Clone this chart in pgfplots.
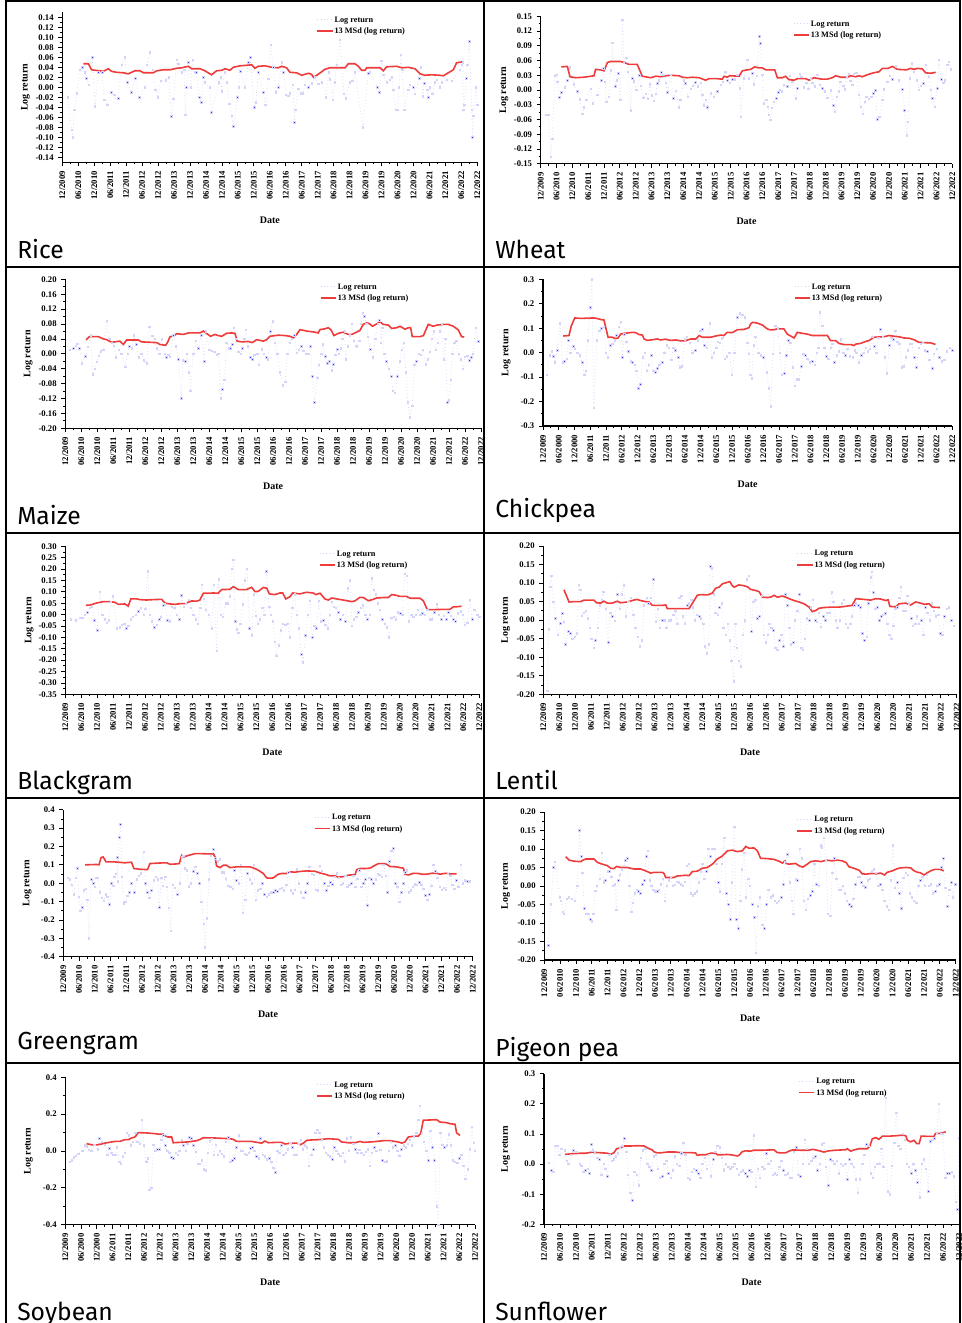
\documentclass[border=0pt]{standalone}
\usepackage{pgfplots}
\pgfplotsset{compat=1.18}
\usepackage{fontspec}
\setmainfont{Liberation Serif}
\newfontfamily\titlefont{Fira Sans}
\definecolor{lrline}{RGB}{212,212,248}
\definecolor{lrdot}{RGB}{50,50,235}
\definecolor{msdred}{RGB}{238,60,60}
\newcommand\tickfont{\bfseries\fontsize{6.5}{7}\selectfont}
\newcommand\legfont{\bfseries\fontsize{6.2}{7}\selectfont}
\newcommand\labfont{\bfseries\fontsize{7.5}{9}\selectfont}
\newcommand\ttl{\titlefont\fontsize{18.5}{20}\selectfont}
\pgfplotsset{
  stdx/.style={xticklabels={12/2009,06/2010,12/2010,06/2011,12/2011,06/2012,12/2012,06/2013,12/2013,06/2014,12/2014,06/2015,12/2015,06/2016,12/2016,06/2017,12/2017,06/2018,12/2018,06/2019,12/2019,06/2020,12/2020,06/2021,12/2021,06/2022,12/2022}},
  altx/.style={xticklabels={12/2009,06/2000,12/2000,06/2011,12/2011,06/2012,12/2012,06/2013,12/2013,06/2014,12/2014,06/2015,12/2015,06/2016,12/2016,06/2017,12/2017,06/2018,12/2018,06/2019,12/2019,06/2020,12/2020,06/2021,12/2021,06/2022,12/2022}},
  panel/.style={scale only axis, anchor=south west, xmin=0, xmax=156, clip=true,
    axis x line*=bottom, axis y line*=left, axis line style={-, black, line width=0.8pt},
    tick align=outside, major tick length=3pt, minor tick length=1.6pt,
    tick style={black, line width=0.6pt},
    xtick={0,6,...,156}, minor x tick num=1, minor y tick num=1,
    xticklabel style={rotate=90, anchor=east, font=\tickfont},
    yticklabel style={font=\tickfont, /pgf/number format/fixed, /pgf/number format/fixed zerofill, /pgf/number format/assume math mode=true},
    xlabel={Date}, ylabel={Log return},
    xlabel style={font=\labfont, at={(axis description cs:0.5,0)}, anchor=center, yshift=-43.5pt},
    ylabel style={font=\labfont, anchor=center},
    legend style={draw=none, fill=none, at={(axis description cs:0.612,0.993)}, anchor=north west, font=\legfont, inner sep=0pt, row sep=0pt, cells={anchor=west}, nodes={inner sep=0.8pt, text height=5.6pt, text depth=1.6pt}},
    legend image code/.code={\draw[#1] (0pt,0pt) -- (11.5pt,0pt);}},
  lr/.style={dotted, lrline, line width=0.5pt, mark=square*, mark size=0.55pt, mark options={solid, draw=none, fill=lrdot}},
  msd/.style={msdred, line width=1.2pt, no marks}
}
\begin{document}
\begin{tikzpicture}
\useasboundingbox (0,0) rectangle (720.75pt,-992.25pt);
\begin{scope}[x=0.75pt,y=-0.75pt]
\coordinate (pRice) at (62.3,162.3);
\coordinate (pWheat) at (540.7,163.7);
\coordinate (pMaize) at (65.3,428.3);
\coordinate (pChick) at (543,426);
\coordinate (pBlack) at (65.3,694.3);
\coordinate (pLentil) at (543.3,694.3);
\coordinate (pGreen) at (63.3,956.7);
\coordinate (pPigeon) at (544.3,960);
\coordinate (pSoy) at (65.3,1224.7);
\coordinate (pSun) at (544,1224.3);
\end{scope}

% Rice
\begin{axis}[panel, stdx, at={(pRice)}, width=311.25pt, height=112.5pt, ymin=-0.15, ymax=0.15,
  ytick={-0.14,-0.12,-0.10,-0.08,-0.06,-0.04,-0.02,0,0.02,0.04,0.06,0.08,0.10,0.12,0.14},
  yticklabel style={/pgf/number format/precision=2}, ylabel style={at={(axis description cs:-0.089,0.5)}}]
\addplot[lr] coordinates {(2,-.02)(3.5,-.085)(3.9,-.1)(4.5,-.045)(5.5,-.012)(6.5,.035)(7.5,.04)(8.5,.03)(9,.018)(10,.005)(11.3,.06)(12.3,-.038)(13.5,.03)(15,.03)(15.8,-.025)(17,-.035)(18.5,-.01)(19.5,-.015)(21,-.022)(22.3,.045)(23.5,.06)(24.4,.01)(26,-.01)(27.5,.018)(29,-.02)(31,0)(31.8,.045)(33,.07)(34,.035)(35,-.005)(36,-.02)(37,.013)(39,.014)(40,.02)(41,-.058)(41.8,-.023)(43,.055)(43.6,.047)(44.9,.03)(45.8,.035)(46.2,-.055)(46.7,0)(47.4,.05)(48.4,0)(49,.055)(49.9,.03)(50.3,.03)(51.5,-.02)(52.2,-.03)(53,.02)(53.6,.01)(55.5,0)(56.1,-.05)(58.9,.01)(59.5,.02)(60,-.008)(61,.03)(61.8,.01)(62.8,-.033)(63.7,-.057)(64.3,-.078)(65.8,-.02)(66.3,0)(67,.032)(68.7,0)(70,.05)(70.6,.06)(72.2,-.04)(72.8,-.03)(73.7,.03)(75.6,-.01)(76.4,-.035)(77.4,.017)(78.3,.085)(79.3,.04)(80.3,-.01)(81.2,0)(82.5,.05)(83.1,.03)(84.1,-.015)(85,-.017)(85.6,-.012)(86.6,.005)(87.3,-.07)(87.6,-.045)(88.7,-.003)(89.6,-.012)(90.4,-.012)(91.2,.005)(92.5,0)(93.7,.008)(95,.02)(96.2,.007)(97.5,.01)(99.1,-.02)(100.2,.03)(100.6,.016)(101.6,-.025)(102.5,.01)(103.1,.045)(104.4,.095)(105.9,-.013)(106.6,-.022)(108.1,.01)(109.1,.013)(110,.03)(113,-.08)(115,.028)(115.6,.03)(118.4,0)(119.2,-.01)(120,.053)(120.7,.025)(121.9,.01)(123.2,.015)(123.8,.02)(124.4,-.005)(125.3,-.045)(126,-.045)(126.6,0)(127.3,.065)(127.8,.035)(128.6,-.045)(130,-.005)(130.7,.005)(131.9,0)(132.6,-.013)(134.2,.018)(134.7,.04)(135.5,-.018)(136,.008)(137.2,-.005)(137.6,-.02)(138.2,0)(139.1,-.013)(140.1,.01)(140.7,.015)(142,0)(142.6,.01)(144.5,.015)(146.4,.013)(149.5,.035)(150.1,.045)(150.5,.05)(150.8,-.045)(151.2,-.035)(151.8,.018)(152.3,.045)(153,.092)(153.9,-.045)(154.2,-.1)(154.5,-.057)(155.5,0)(156,-.035)};
\addlegendentry{Log return}
\addplot[msd] coordinates {(7.9,.047)(9.8,.047)(11,.035)(14,.033)(15.4,.032)(17.3,.037)(18.5,.032)(20.4,.030)(23,.029)(24.8,.027)(27.3,.033)(29.2,.033)(30.5,.029)(34.2,.029)(35.5,.033)(38,.035)(40.5,.035)(43,.038)(44.9,.039)(47.4,.042)(48.6,.037)(51.8,.037)(53.6,.033)(56.1,.025)(58,.033)(59.9,.034)(61.2,.037)(63,.034)(64.3,.040)(66.8,.043)(69.3,.044)(71.2,.045)(72.4,.038)(73.7,.042)(76.2,.043)(78.7,.040)(81.2,.039)(82.5,.042)(84.3,.039)(85.6,.030)(88.1,.029)(90,.024)(92.5,.028)(93.7,.026)(94.4,.020)(96.2,.026)(97.5,.031)(98.7,.036)(100.6,.039)(103.1,.039)(106.3,.039)(107.5,.047)(110,.047)(111.3,.042)(112.5,.034)(113.8,.034)(114.4,.039)(119.4,.039)(120.7,.033)(121.9,.041)(125.7,.042)(127.6,.039)(130.1,.040)(132.6,.037)(134.5,.027)(136.3,.024)(138.8,.025)(142,.024)(143.2,.023)(145.1,.029)(147,.035)(148.2,.049)(150.5,.051)};
\addlegendentry{13 MSd (log return)}
\end{axis}

% Wheat
\begin{axis}[panel, stdx, at={(pWheat)}, width=308.7pt, height=110.55pt, ymin=-0.15, ymax=0.15,
  ytick={-0.15,-0.12,-0.09,-0.06,-0.03,0,0.03,0.06,0.09,0.12,0.15},
  yticklabel style={/pgf/number format/precision=2}, ylabel style={at={(axis description cs:-0.089,0.5)}}]
\addplot[lr] coordinates {(1.9,-.051)(2.9,-.051)(3.8,-.136)(4.4,-.099)(5.3,.029)(5.9,.031)(6.3,.017)(7.1,-.015)(7.8,-.005)(9.2,.005)(10.1,.02)(11.1,.046)(12.6,.012)(13.9,-.003)(14.9,-.019)(15.8,-.048)(16.4,-.035)(17.3,-.02)(19,.002)(19.8,-.027)(21.5,-.01)(23,.02)(23.7,.044)(24.4,.017)(24.8,-.024)(25.9,-.014)(26.5,.04)(27.2,.096)(28.2,.007)(28.8,.02)(29.4,.034)(30.1,-.02)(31,.143)(31.6,.055)(32.5,.065)(33.1,.037)(34.1,-.041)(34.7,.024)(35.3,.018)(36.3,0)(37.3,.03)(37.9,.009)(38.9,-.016)(39.8,-.008)(40.7,-.018)(41.3,.012)(42.1,-.011)(42.9,-.022)(43.6,-.008)(44.2,.014)(44.8,.02)(45.7,.036)(46.5,.031)(47.4,.015)(48,-.005)(49.3,.031)(50.3,-.017)(51.2,-.002)(52.4,-.035)(53,-.02)(54.3,.02)(54.9,.014)(55.8,-.014)(56.8,.002)(57.7,.008)(58.6,.016)(59.6,.007)(60.6,.015)(61.2,-.01)(61.9,-.031)(62.5,-.02)(63.2,-.035)(64.4,-.007)(65.7,-.014)(67,-.003)(68.2,.01)(69.1,.017)(69.9,.037)(70.7,.02)(71.7,.015)(72.6,.022)(73.5,.022)(74.5,.031)(75.5,.003)(75.8,-.055)(77,.024)(78.3,.061)(78.9,.024)(80.2,.034)(80.8,.012)(81.9,.029)(82.9,.109)(83.2,.095)(84,.031)(84.6,-.027)(85.5,-.02)(86.1,-.034)(86.5,-.051)(87.1,-.061)(87.6,-.036)(88.4,-.024)(89.3,-.017)(90.1,-.005)(90.7,0)(91.3,-.003)(92.2,.01)(93.4,.007)(94.5,.029)(95.3,.017)(96.6,-.017)(97.3,.003)(98.3,.033)(98.8,.027)(99.8,.005)(100.7,.015)(101.4,.002)(102.3,.024)(102.9,.015)(103.8,.007)(104.8,.031)(105.8,.01)(106.7,.003)(107.6,-.003)(108.6,-.016)(109.9,-.001)(110.9,-.031)(111.5,-.044)(112.2,-.014)(113,-.003)(113.6,.017)(114.7,.008)(115.3,.001)(116,.026)(116.8,.033)(117.4,.019)(118.1,.01)(118.7,.032)(119.6,.035)(120.6,-.01)(121.3,-.034)(122.1,-.049)(122.9,-.024)(123.5,-.014)(124.4,-.018)(125.3,-.014)(126,-.007)(126.9,-.001)(127.6,-.06)(128.3,-.055)(129.5,-.02)(130.1,.001)(131.4,.017)(132.4,.029)(133.3,.022)(134.5,.048)(135.8,.02)(137,.001)(137.9,-.041)(138.7,-.092)(139.2,-.065)(140,.024)(140.7,.054)(141.5,.037)(142.5,.02)(143.4,0)(144,.008)(145,.014)(145.9,.051)(147.1,.027)(147.8,0)(148.4,-.017)(149.3,-.034)(150.3,.003)(150.9,.061)(151.8,.022)(152.6,.015)(153.2,.02)(154.1,.051)(154.7,.057)(155.4,.042)};
\addlegendentry{Log return}
\addplot[msd] coordinates {(7.8,.047)(10.1,.048)(11.1,.027)(13.3,.025)(16.4,.026)(19,.028)(20.2,.029)(20.8,.042)(22.7,.041)(24,.039)(25.3,.056)(26.5,.058)(30.3,.058)(31.6,.056)(33.5,.052)(36.6,.052)(38.5,.028)(41.7,.025)(43.6,.028)(45.5,.027)(47.4,.029)(49.3,.030)(52.4,.029)(53.7,.026)(55.6,.025)(57.5,.026)(60,.025)(62.5,.020)(63.8,.023)(66.9,.023)(68.8,.022)(69.5,.028)(70.7,.026)(71.7,.029)(75.2,.028)(76.4,.039)(78.3,.041)(79.6,.042)(81.1,.047)(82.7,.045)(84,.045)(85.3,.041)(88.7,.041)(89.7,.025)(91.6,.025)(92.8,.028)(94.1,.021)(96,.020)(97.3,.023)(100.4,.023)(101.7,.020)(103.6,.025)(105.5,.023)(106.7,.022)(108.6,.022)(110.5,.025)(111.8,.029)(113.7,.026)(116.2,.026)(117.5,.029)(119.4,.027)(120.6,.029)(121.9,.027)(123.8,.031)(126.1,.035)(128.2,.037)(129.5,.044)(131.6,.044)(133.3,.048)(135.2,.042)(138.7,.041)(140.2,.044)(141.5,.042)(142.7,.044)(144.6,.043)(145.9,.035)(147.8,.034)(149.7,.036)};
\addlegendentry{13 MSd (log return)}
\end{axis}

% Maize
\begin{axis}[panel, stdx, at={(pMaize)}, width=311.775pt, height=111.75pt, ymin=-0.2, ymax=0.2,
  ytick={-0.2,-0.16,-0.12,-0.08,-0.04,0,0.04,0.08,0.12,0.16,0.2},
  yticklabel style={/pgf/number format/precision=2}, ylabel style={at={(axis description cs:-0.089,0.5)}}]
\addplot[lr] coordinates {(1.8,.01)(3,.015)(4,.022)(4.5,.027)(5.3,.015)(6.3,-.025)(7.5,-.007)(8.5,.018)(9.5,.05)(10.3,-.055)(11,-.04)(11.8,-.022)(12.6,-.005)(13.3,.007)(14.3,.01)(15.5,.088)(16.5,.04)(17.5,.03)(18.3,.022)(19,-.01)(20,.01)(21.1,0)(22.5,-.035)(23.4,0)(24,.02)(25,.015)(25.8,.05)(26.6,.025)(27.5,-.01)(28.5,0)(29.5,-.018)(30.5,-.025)(31.5,.072)(32.6,.048)(33.5,.04)(34.3,.015)(35.2,0)(36.2,.04)(37.3,0)(38,-.01)(38.6,-.003)(39.3,-.008)(40.5,.05)(41.4,.02)(42.5,-.015)(43.5,-.12)(44.2,-.017)(45,-.02)(45.7,0)(46.4,-.05)(47,-.1)(48,0)(49,.035)(50,.015)(51,.05)(52.1,-.02)(52.8,.06)(54,.01)(55,.008)(56,.005)(56.8,-.003)(57.5,0)(58.4,-.12)(58.9,-.095)(59.7,-.07)(60.5,.03)(61.3,.015)(62,.015)(62.6,.025)(63.3,.07)(64.2,.04)(65,.005)(65.9,0)(66.5,.015)(67.2,.04)(67.7,.065)(68.5,.02)(69.5,-.01)(70.2,-.015)(71,-.003)(72,0)(72.7,-.03)(73.7,.012)(74.5,0)(75.5,-.01)(76,-.015)(77,.06)(77.8,.087)(78.6,.03)(79.5,0)(80.5,-.05)(81.6,-.085)(82.5,-.075)(83.3,0)(84.3,.03)(85,.04)(86,.05)(86.9,.002)(87.6,.01)(88.5,.02)(89.4,.008)(90.3,0)(91.2,0)(92,.02)(92.7,-.06)(93.5,-.13)(94.5,-.065)(95.2,-.03)(96,0)(96.7,.025)(97.5,-.007)(98.3,-.025)(99,-.02)(100,-.045)(100.6,-.028)(101.3,-.003)(102,.012)(102.6,0)(103.3,.015)(104,.04)(104.8,.06)(105.3,-.015)(106,.02)(106.8,.05)(107.5,.08)(108.2,.035)(109,.022)(109.5,.02)(110.3,.035)(111,.08)(111.6,.11)(112.3,.1)(113,.08)(113.6,.045)(114.5,.012)(115.5,-.01)(116.3,.04)(117.2,.08)(117.8,.09)(118.4,.03)(119,.07)(119.7,0)(120.5,-.02)(121.5,-.04)(122.3,-.06)(123,-.1)(123.7,-.105)(124.6,-.06)(125.5,-.02)(126.2,.01)(127,.03)(127.8,-.05)(128.5,-.13)(129.3,-.17)(130.2,-.14)(131,-.03)(131.8,-.02)(132.7,0)(133.5,-.003)(134.2,.01)(135.2,-.028)(136,-.015)(136.8,.005)(137.5,.04)(138.2,.06)(139,.01)(139.7,.03)(140.5,.06)(141.2,.08)(142,-.015)(142.6,.04)(143.3,-.13)(143.9,-.125)(144.6,-.07)(145.2,0)(146,.03)(146.8,.035)(147.6,0)(148.4,-.015)(149.2,-.04)(150,-.008)(150.8,-.005)(151.6,-.018)(152.3,-.01)(153,0)(154,.07)(155,.033)};
\addlegendentry{Log return}
\addplot[msd] coordinates {(7.8,.037)(9,.046)(12.4,.046)(14.3,.040)(15.5,.038)(17.4,.031)(20.5,.034)(21.8,.025)(23,.037)(27.4,.037)(28.6,.032)(34.3,.030)(35.5,.025)(37.7,.023)(38.4,.031)(39.3,.046)(40.5,.047)(41.8,.054)(44.3,.052)(46.2,.056)(50.5,.056)(51.8,.061)(53,.055)(54.5,.047)(56.2,.052)(57.4,.049)(58.7,.047)(60.5,.055)(62.4,.056)(63.7,.055)(64.5,.034)(66.2,.032)(68.7,.033)(70.2,.030)(71.8,.038)(74.3,.034)(75.6,.038)(76.8,.047)(79.9,.050)(82.4,.049)(84.3,.047)(85.6,.043)(86.8,.052)(88.1,.065)(90.6,.061)(93.7,.058)(94.9,.056)(95.6,.065)(97.4,.067)(98.7,.070)(99.7,.064)(100.8,.049)(102.5,.055)(104.3,.058)(106.2,.052)(107.5,.052)(108.7,.056)(110.6,.063)(111.8,.079)(113.1,.083)(114.1,.081)(115.3,.074)(116.8,.080)(118.1,.086)(119.3,.079)(121.2,.077)(122.5,.068)(124.3,.070)(125.6,.074)(127.5,.066)(128.7,.070)(129.6,.070)(130.2,.046)(133.1,.046)(134.4,.049)(136.2,.079)(138.1,.074)(139.4,.077)(141.9,.079)(143.7,.079)(145.6,.074)(147.5,.064)(148.7,.046)(149.7,.045)};
\addlegendentry{13 MSd (log return)}
\end{axis}

% Chickpea
\begin{axis}[panel, altx, at={(pChick)}, width=306.975pt, height=110.025pt, ymin=-0.3, ymax=0.3,
  ytick={-0.3,-0.2,-0.1,0,0.1,0.2,0.3},
  yticklabel style={/pgf/number format/precision=1}, ylabel style={at={(axis description cs:-0.090,0.5)}}]
\addplot[lr] coordinates {(1.5,-.09)(2.5,-.01)(3.3,.005)(4,-.015)(4.6,-.04)(5.5,.01)(6.5,.12)(7.5,-.04)(8.2,-.035)(9,-.025)(9.7,.05)(10.5,0)(11.5,.025)(12.2,.015)(13,0)(14,-.01)(14.9,-.04)(15.7,-.09)(16.3,-.075)(17,.05)(18,.185)(18.6,.3)(19.4,-.225)(20.5,.05)(21.5,.09)(22.3,.1)(23.2,.105)(24,0)(24.8,-.02)(25.7,.03)(26.5,.035)(27.3,.05)(28,.07)(28.8,.105)(29.6,.125)(30.2,-.02)(31,.075)(31.8,.045)(32.6,.005)(33.4,-.035)(34,-.04)(35,-.05)(35.6,-.075)(36.4,-.145)(37.1,-.13)(38,-.02)(38.8,0)(39.6,-.075)(40.4,-.05)(41.2,-.01)(42,-.075)(42.8,-.08)(43.5,-.065)(44.3,-.05)(45.4,-.04)(46.3,0)(47.2,.03)(48,.02)(48.9,-.03)(49.6,.02)(50.5,.01)(51.5,-.02)(52.2,-.06)(53,-.055)(54,.055)(54.8,.065)(56,.04)(57,0)(58,.01)(59,.05)(60,.09)(60.7,.095)(61.5,.03)(62.5,.02)(63.5,.12)(64.3,-.02)(65.2,0)(66,.02)(66.6,.045)(67.3,.04)(68.3,.06)(69.2,-.025)(70,-.015)(71,0)(72,-.09)(73,0)(74,.145)(75,.16)(76,.155)(77,.145)(77.8,.04)(78.5,-.005)(79,-.09)(79.6,-.105)(80.3,.03)(81,.065)(82,0)(83,-.01)(84,-.02)(85.3,-.08)(86,-.145)(86.8,-.22)(87.6,-.005)(88.6,.11)(89.5,.1)(90.3,0)(91,-.09)(91.9,-.085)(92.7,-.01)(93.5,.05)(94.3,.04)(95.2,-.06)(96,-.135)(96.8,-.11)(97.6,-.11)(98.4,-.055)(99.2,-.005)(100,-.01)(100.8,-.025)(101.6,-.04)(102.6,-.035)(103.6,-.05)(104.4,0)(105,.02)(105.5,.165)(106.5,.11)(107.2,.02)(108,-.015)(108.8,-.025)(109.6,.02)(110.3,.035)(111,-.04)(112,-.01)(112.8,.005)(113.6,.055)(114.5,0)(115.2,-.01)(116,.015)(117,-.015)(118,-.02)(118.8,.01)(119.5,0)(120.4,-.04)(121.3,-.01)(122.2,0)(123,.02)(123.8,.005)(124.6,.015)(125.5,.065)(126.3,.025)(127,0)(127.8,.06)(128.6,.095)(129.5,.065)(130.3,-.02)(131.1,-.085)(132,.03)(132.8,.06)(133.5,.055)(134.3,.09)(135,.045)(135.8,.035)(136.7,-.06)(137.5,-.055)(138.3,-.02)(139,.01)(139.8,.035)(140.6,.035)(141.5,-.02)(142.3,-.06)(143.2,.02)(144,.035)(144.8,.04)(145.6,.01)(146.5,.005)(147.3,-.03)(148.3,-.065)(149,-.005)(150,.015)(151,-.02)(152,-.035)(153,-.03)(154,.005)(155,.02)(156,.01)};
\addlegendentry{Log return}
\addplot[msd] coordinates {(7.7,.068)(9.9,.070)(10.8,.110)(12.1,.142)(14.4,.140)(19.4,.142)(21.3,.138)(22.6,.134)(23.2,.135)(24.8,.063)(26.4,.063)(27.7,.057)(28.6,.060)(29.6,.076)(30.9,.079)(34,.083)(35.3,.082)(36.6,.074)(37.9,.072)(38.5,.056)(39.8,.050)(41.7,.053)(43.6,.056)(44.8,.052)(46.7,.055)(48.7,.050)(50.6,.052)(52.5,.048)(54.4,.049)(56.3,.056)(58.2,.056)(59.5,.070)(60.7,.063)(63.9,.063)(65.8,.068)(67.7,.072)(69,.070)(70.2,.083)(72.2,.082)(74.1,.094)(76.6,.095)(78.5,.102)(79.1,.117)(79.8,.124)(81.7,.121)(83.6,.113)(85.5,.097)(86.8,.093)(88,.094)(89.3,.097)(91.8,.097)(93.1,.076)(94.6,.067)(95.7,.060)(96.9,.083)(98.8,.079)(100.7,.076)(102.6,.070)(104.5,.070)(106.5,.070)(108.4,.070)(109.6,.049)(111.5,.049)(112.8,.038)(114.7,.033)(117.3,.033)(118.5,.029)(119.2,.035)(121.1,.038)(123,.046)(124.2,.049)(126.1,.063)(128,.064)(129.9,.065)(131.9,.070)(133.8,.067)(135.7,.065)(137.6,.060)(139.5,.059)(141.4,.053)(143.3,.042)(145.2,.041)(147.7,.040)(149.6,.034)};
\addlegendentry{13 MSd (log return)}
\end{axis}

% Blackgram
\begin{axis}[panel, stdx, at={(pBlack)}, width=310.5pt, height=111pt, ymin=-0.35, ymax=0.3,
  ytick={-0.35,-0.30,-0.25,-0.20,-0.15,-0.10,-0.05,0,0.05,0.10,0.15,0.20,0.25,0.30},
  yticklabel style={/pgf/number format/precision=2}, ylabel style={at={(axis description cs:-0.087,0.5)}}]
\addplot[lr] coordinates {(2,-.02)(4,-.025)(5.5,-.015)(6.5,-.015)(7.3,0)(8.3,.01)(9.2,.03)(10,.035)(11,-.025)(12,-.07)(13,.1)(14,0)(14.8,-.02)(15.6,-.035)(16.5,-.025)(17.2,.055)(18,.08)(19.5,-.06)(20.5,-.055)(21.3,-.045)(22.2,-.04)(23,-.06)(23.8,-.05)(24.6,-.02)(25.5,-.01)(26.5,0)(27.5,.015)(28.5,.03)(29.5,0)(30.2,.025)(31,.19)(31.8,0)(32.7,-.03)(33.6,-.055)(34.5,-.045)(35.5,-.02)(36,-.01)(37,.04)(37.6,.045)(38.5,-.025)(39.4,-.03)(40.2,.035)(41,.03)(42,0)(43,-.02)(43.8,.085)(44.6,.035)(45.5,.05)(46.5,.065)(47.4,.03)(48.3,0)(49.2,-.02)(50,-.04)(50.8,.03)(51.5,.13)(52.3,.07)(53,.02)(54,0)(55.2,-.06)(56,.13)(57,-.16)(57.8,.155)(58.6,0)(59.4,-.01)(60.4,.05)(61.3,.05)(62,.08)(62.7,.2)(63.3,.24)(64,-.03)(64.6,-.065)(65.2,-.08)(66,-.04)(66.8,.045)(67.6,.15)(68.5,.2)(69.4,-.06)(70.3,-.09)(71,.09)(71.8,-.005)(72.6,-.04)(73.4,-.02)(74.3,.03)(75,0)(75.8,.19)(76.8,.035)(77.5,0)(78.2,-.03)(79,-.12)(79.6,-.18)(80.4,-.135)(81.2,-.07)(82,-.04)(82.9,-.045)(83.7,-.04)(84.6,-.1)(85.5,.03)(86.4,.09)(87.2,0)(88,-.06)(89,-.175)(89.6,-.21)(90.5,-.09)(91.4,0)(92.2,.06)(93,-.1)(93.8,-.05)(94.6,-.06)(95.5,.06)(96.3,-.03)(97.2,-.025)(98,-.045)(98.9,-.06)(99.6,0)(100.4,.055)(101.2,.035)(102,.03)(102.8,.01)(103.7,-.02)(104.6,0)(105.5,-.03)(106.4,.115)(107.3,.15)(108,-.05)(108.8,-.02)(109.6,-.01)(110.5,.01)(111.4,.03)(112.2,.04)(113,0)(113.8,-.02)(114.7,0)(115.5,.16)(116.2,.11)(117,.09)(117.8,.05)(118.6,.02)(119.5,-.02)(120.4,-.04)(121.1,-.055)(122,-.1)(122.8,-.015)(123.7,-.01)(124.5,-.02)(125.4,.01)(126.2,.005)(127,0)(127.9,.18)(128.6,.17)(129.5,-.03)(130.3,0)(131.2,-.01)(132,0)(132.8,.02)(133.7,0)(134.6,.005)(135.5,0)(136.4,.02)(137.3,-.02)(138.1,-.02)(139,.01)(140,.045)(140.8,0)(141.7,-.02)(142.6,-.005)(143.5,-.02)(144.4,.01)(145.3,-.005)(146.2,-.02)(147,-.03)(148,.005)(149,.015)(149.8,0)(150.6,-.045)(151.5,-.035)(152.4,.065)(153.3,-.02)(154.2,.02)(155.3,0)(156,-.01)};
\addlegendentry{Log return}
\addplot[msd] coordinates {(7.8,.041)(9.3,.042)(11.8,.051)(14.3,.057)(16.8,.057)(18.7,.054)(20,.045)(22.5,.047)(23.7,.037)(24.7,.069)(26.9,.069)(28.1,.066)(30.6,.064)(33.2,.066)(36.3,.067)(37.6,.050)(39.4,.047)(41.3,.045)(43.2,.048)(45.1,.048)(46.3,.054)(47.6,.060)(49.5,.059)(50.7,.064)(52,.094)(53.9,.094)(55.8,.095)(57.6,.094)(58.9,.110)(62,.111)(63.3,.123)(65.2,.110)(68.3,.110)(70.2,.120)(71.5,.101)(72.7,.102)(74.6,.119)(75.9,.116)(76.9,.091)(79,.088)(80.9,.095)(81.9,.095)(83.1,.069)(84.7,.079)(85.7,.095)(88.4,.091)(90.9,.098)(93.4,.095)(94.4,.088)(96,.094)(97.8,.069)(99.1,.064)(100.4,.073)(102.2,.069)(104.7,.064)(106.6,.060)(107.9,.057)(109.1,.060)(111,.076)(112.3,.075)(114.2,.061)(116,.067)(117.3,.073)(119.8,.075)(121.7,.075)(123,.088)(124.2,.086)(126.1,.080)(128.6,.080)(129.9,.072)(133.6,.072)(134.9,.061)(136.4,.022)(138.7,.022)(142.4,.023)(144.9,.023)(146.2,.034)(148.1,.035)(149.3,.037)};
\addlegendentry{13 MSd (log return)}
\end{axis}

% Lentil
\begin{axis}[panel, stdx, at={(pLentil)}, width=310.05pt, height=111.225pt, ymin=-0.2, ymax=0.2,
  ytick={-0.2,-0.15,-0.1,-0.05,0,0.05,0.1,0.15,0.2},
  yticklabel style={/pgf/number format/precision=2}, ylabel style={at={(axis description cs:-0.091,0.5)}}]
\addplot[lr] coordinates {(1.5,-.19)(2,-.025)(2.6,.09)(3,.12)(3.8,.05)(4.5,.005)(5.5,-.04)(6.5,-.008)(7.2,.018)(7.8,-.005)(8.3,-.065)(9.5,-.03)(10.2,-.035)(11,-.05)(11.8,-.045)(12.6,-.035)(13.4,.095)(14,.082)(14.6,.012)(15.3,.02)(16,.025)(16.8,.005)(17.5,-.02)(18.2,-.05)(19,-.075)(19.6,-.055)(20.5,-.02)(21.3,.04)(22,.055)(22.6,.077)(23.5,.03)(24.5,-.06)(25.3,.02)(26,.01)(27,-.002)(28,.07)(28.8,.03)(29.6,.07)(30.3,.094)(31.1,.01)(32,.05)(33,.06)(34,.015)(34.8,-.02)(35.6,-.045)(36.4,-.07)(37.2,-.055)(38,.04)(39,.06)(39.6,.045)(40.5,.06)(41.5,.11)(42.5,-.005)(43.3,.03)(44,-.02)(45,0)(45.8,0)(46.5,-.02)(47.3,0)(48.1,0)(49,.015)(49.8,.025)(50.5,-.01)(51.3,.06)(52,.065)(52.7,.01)(53.5,-.01)(54.3,.04)(55,.045)(55.8,.055)(56.5,.035)(57.2,0)(58,.015)(58.8,.01)(59.5,.005)(60.3,-.01)(61,-.07)(61.7,-.09)(62.4,-.065)(63,.145)(63.6,.14)(64.3,.07)(65,.02)(65.8,.015)(66.5,.035)(67.3,.045)(68,-.02)(68.8,-.04)(69.6,-.01)(70.4,-.055)(71,-.11)(71.8,-.165)(72.4,-.01)(73,-.075)(73.8,-.11)(74.5,-.125)(75.3,-.04)(76,0)(76.8,.11)(77.5,.12)(78.5,-.03)(79.3,.05)(80,.055)(80.8,.005)(81.6,.01)(82.4,.065)(83.2,-.04)(84,-.06)(84.7,-.04)(85.3,-.01)(86,-.02)(86.8,-.028)(87.5,-.075)(88.3,-.08)(89,-.055)(89.8,-.04)(90.6,-.07)(91.3,.07)(92,.04)(92.8,-.02)(93.5,-.065)(94.3,-.06)(95,0)(95.8,.025)(96.6,.07)(97.4,-.075)(98,-.08)(98.7,-.05)(99.5,.005)(100.3,0)(101,.035)(101.8,.055)(102.6,0)(103.3,-.005)(104,.02)(104.8,-.018)(105.6,.01)(106.4,0)(107.2,.02)(108,.02)(108.8,.075)(109.5,.05)(110.3,0)(111,-.02)(111.8,0)(112.6,.045)(113.4,.055)(114.2,-.01)(115,-.02)(115.8,-.01)(116.5,.01)(117.3,.04)(118,.045)(118.8,.04)(119.6,.035)(120.4,-.035)(121.2,-.055)(122,-.045)(122.7,.045)(123.5,.115)(124,.13)(124.6,.075)(125.3,.03)(126,.035)(126.8,0)(127.5,.01)(128.2,.015)(129,.018)(129.8,-.01)(130.6,-.04)(131.3,-.05)(132,-.015)(132.8,.03)(133.6,.035)(134.4,.06)(135,.09)(135.8,.025)(136.6,.025)(137.3,.065)(138,.045)(138.8,.005)(139.5,-.015)(140.3,-.01)(141,.01)(141.8,-.01)(142.6,0)(143.4,-.04)(144.2,.035)(145,.02)(145.8,0)(146.6,.045)(147.4,.025)(148.2,.01)(149,.015)(149.8,-.035)(150.6,-.04)(151.4,.01)(152.2,.03)(153,.035)(154,0)(155,-.015)};
\addlegendentry{Log return}
\addplot[msd] coordinates {(7.8,.082)(9.7,.049)(11.6,.050)(14.1,.050)(15.3,.054)(19.1,.054)(20.1,.047)(21.6,.046)(22.9,.051)(24.2,.046)(26,.046)(27.9,.051)(29.2,.047)(31.7,.049)(33.6,.053)(35.2,.056)(36.7,.053)(38.6,.050)(39.9,.049)(41.1,.040)(43,.040)(44.9,.040)(46.2,.041)(46.8,.031)(48.7,.031)(51.2,.031)(53.1,.031)(55,.031)(55.6,.038)(56.2,.045)(58.1,.067)(59.4,.069)(61.9,.068)(63.8,.073)(65,.086)(66.3,.089)(67.6,.098)(69.4,.102)(70.4,.104)(71.3,.093)(72,.089)(73.8,.095)(75.7,.093)(77.3,.089)(78.2,.083)(80.1,.080)(81.4,.077)(82.7,.062)(84.5,.061)(85.8,.062)(87.1,.067)(88.3,.062)(90.2,.065)(91.5,.062)(92.7,.058)(94.6,.053)(96.5,.049)(98.4,.044)(100.3,.035)(101.5,.023)(102.8,.026)(104,.032)(105.9,.034)(108.4,.035)(111,.035)(112.8,.036)(114.7,.038)(116.6,.040)(117.9,.058)(121,.056)(123.5,.054)(125.4,.058)(127.3,.057)(129.2,.053)(130.1,.055)(130.8,.037)(133,.036)(134.2,.044)(136.7,.046)(138.6,.041)(140.5,.049)(141.8,.047)(143.7,.043)(145.6,.044)(146.8,.035)(149.7,.034)};
\addlegendentry{13 MSd (log return)}
\end{axis}

% Greengram
\begin{axis}[panel, stdx, at={(pGreen)}, width=307.05pt, height=110.25pt, ymin=-0.4, ymax=0.4,
  ytick={-0.4,-0.3,-0.2,-0.1,0,0.1,0.2,0.3,0.4},
  yticklabel style={/pgf/number format/precision=1}, ylabel style={at={(axis description cs:-0.088,0.5)}}]
\addplot[lr] coordinates {(1.8,.03)(2.5,.02)(3.2,-.01)(4,-.06)(4.7,.03)(5.3,.08)(6,-.075)(6.5,-.15)(7.2,-.13)(7.8,-.04)(8.5,-.03)(9.2,-.09)(9.8,-.3)(10.6,.02)(11.5,0)(12,-.02)(12.6,.03)(13.2,.03)(14,-.05)(14.7,-.08)(15.4,-.095)(16.2,-.06)(16.8,-.075)(17.6,-.115)(18.3,0)(19,-.015)(19.5,.035)(20,.05)(20.5,.14)(20.8,.01)(21.3,.25)(21.8,.32)(22.4,.035)(23,-.11)(23.6,-.1)(24.4,-.07)(25.2,-.05)(26,0)(27,-.05)(28,.02)(28.8,.04)(29.6,.055)(30.6,.17)(31.3,0)(32,-.05)(32.8,-.08)(33.6,-.04)(34.4,.015)(35.2,.035)(36,.02)(36.6,-.13)(37.3,.03)(38,-.015)(38.8,.035)(39.4,-.02)(40.2,-.135)(41,-.26)(41.8,-.01)(42.5,-.025)(43.5,-.06)(44.4,0)(45.2,.14)(45.8,.15)(46.4,.08)(47,.07)(47.8,-.02)(48.6,0)(49.5,.065)(50.3,.09)(51,.055)(51.8,0)(52.6,-.1)(53.5,-.22)(54,-.35)(54.7,-.19)(55.5,.02)(56.3,.15)(57.2,.185)(58,.135)(58.8,.12)(59.7,.13)(60.5,.06)(61.2,.06)(62,.025)(62.8,-.015)(63.6,-.02)(64.5,-.03)(65.2,.07)(66,.015)(66.8,0)(67.7,.1)(68.5,-.16)(69.3,-.09)(70.2,.055)(71,.02)(71.8,0)(72.5,.1)(73.3,-.09)(74.2,-.04)(75,-.03)(75.8,0)(76.6,-.06)(77.5,-.075)(78.3,-.06)(79.1,-.05)(80,-.05)(80.8,-.04)(81.6,-.045)(82.5,-.03)(83.3,-.025)(84.1,-.04)(85,-.01)(85.8,.06)(86.6,-.04)(87.4,-.055)(88.2,-.035)(89,.075)(89.8,0)(90.6,-.05)(91.4,-.08)(92.2,-.05)(93,0)(93.8,.09)(94.6,.05)(95.4,.045)(96.2,-.035)(97,-.04)(97.8,.095)(98.6,.065)(99.4,0)(100.2,-.04)(101,-.015)(101.8,.005)(102.6,-.005)(103.4,.035)(104.2,.055)(105,.03)(105.8,-.01)(106.6,0)(107.4,.04)(108.2,-.02)(109,-.01)(109.8,0)(110.6,.04)(111.3,-.02)(112,.025)(112.8,.07)(113.6,-.02)(114.3,0)(115,.02)(115.8,-.12)(116.6,.03)(117.4,.02)(118.2,0)(119,.02)(119.8,.05)(120.5,.045)(121.3,.035)(122,.1)(122.8,.04)(123.5,-.05)(124.3,.12)(125,.175)(125.8,.19)(126.5,0)(127.3,-.02)(128,-.1)(128.8,-.05)(129.6,0)(130.3,.06)(131,.07)(131.6,-.05)(132.4,-.04)(133.2,-.02)(134,-.005)(134.8,-.01)(135.6,.005)(136.4,-.01)(137.2,-.03)(138,-.065)(138.7,-.09)(139.4,-.06)(140.2,-.015)(141,.1)(141.8,.065)(142.6,.03)(143.4,-.02)(144.2,-.035)(145,-.025)(145.8,-.035)(146.6,.05)(147.4,.04)(148.2,-.01)(149,-.03)(149.8,.015)(150.6,-.02)(151.4,.1)(152.2,0)(153,.015)(154,.01)(155,.01)};
\addlegendentry{Log return}
\addplot[msd] coordinates {(8.3,.100)(12.7,.102)(13.6,.100)(14.4,.140)(15.2,.143)(16.3,.116)(19.7,.116)(23.5,.111)(24.8,.113)(26,.114)(26.9,.080)(29.2,.076)(32.1,.074)(33,.107)(35.6,.109)(38.1,.111)(39.4,.111)(40.7,.103)(43.2,.105)(44.2,.107)(45.1,.152)(46,.143)(47.6,.151)(48.9,.156)(50.2,.161)(52.1,.161)(54.6,.160)(57.2,.160)(57.8,.143)(58.4,.094)(59.7,.085)(61,.098)(62.2,.098)(63.5,.085)(66,.089)(68.6,.089)(71.1,.089)(73,.080)(74.3,.071)(76.2,.053)(77.5,.029)(78.8,.027)(80,.029)(81.9,.049)(83.2,.053)(85.1,.053)(86.4,.062)(88.3,.060)(90.2,.064)(92.7,.067)(95.9,.065)(97.8,.056)(99.7,.049)(101.6,.040)(103.5,.040)(104.8,.033)(106.8,.036)(108.6,.044)(111.2,.047)(111.8,.074)(113.1,.080)(115,.080)(116.9,.082)(118.2,.093)(120.1,.107)(122,.107)(123.2,.103)(124.5,.091)(127,.089)(128.3,.085)(129.6,.082)(130.2,.049)(131.5,.045)(133.4,.054)(135.3,.053)(136.6,.049)(138.5,.049)(140.4,.054)(142.3,.054)(143.6,.049)(145.5,.054)(147.4,.051)(149.9,.051)};
\addlegendentry{13 MSd (log return)}
\end{axis}

% Pigeon pea
\begin{axis}[panel, stdx, at={(pPigeon)}, width=308.55pt, height=111pt, ymin=-0.2, ymax=0.2,
  ytick={-0.2,-0.15,-0.1,-0.05,0,0.05,0.1,0.15,0.2},
  yticklabel style={/pgf/number format/precision=2}, ylabel style={at={(axis description cs:-0.094,0.5)}}]
\addplot[lr] coordinates {(1.5,-.16)(2.5,-.05)(3.5,.05)(4,.065)(5.8,-.03)(6.3,-.04)(7,-.07)(7.5,-.075)(8.5,-.035)(9.3,-.03)(10.5,-.035)(11.5,-.04)(12.5,0)(13.3,.15)(14,.08)(14.5,.035)(15.2,-.06)(15.9,-.075)(16.8,-.075)(17.5,-.09)(18,-.095)(18.6,-.075)(19.3,-.013)(20,0)(21,.02)(21.8,.09)(22.5,.01)(23.2,.015)(24,.04)(24.7,.04)(25.4,.025)(26,0)(26.8,.005)(27.3,-.065)(28,.015)(28.7,.03)(29.4,.045)(30.2,.055)(30.8,.07)(31.5,.075)(32.3,0)(33,-.07)(33.6,-.045)(34.3,-.02)(35,-.01)(35.7,-.015)(36.5,-.02)(37.2,.005)(38,.015)(38.6,.08)(39.2,.095)(40,.015)(40.6,0)(41.3,-.01)(42,-.015)(42.8,-.015)(43.5,-.01)(44.2,.005)(45,.02)(45.8,-.04)(46.5,0)(47.3,.015)(48,.025)(48.7,0)(49.5,.003)(50.2,.012)(51,.01)(51.7,.005)(52.5,0)(53.2,.012)(54,.055)(54.8,.06)(55.5,-.02)(56.3,-.025)(57,-.02)(57.8,-.015)(58.5,.01)(59.3,.04)(60,.06)(60.7,.02)(61.5,.04)(62.2,.1)(63,.08)(63.8,.1)(64.5,.1)(65.2,.06)(66,.01)(66.6,-.015)(67.4,.06)(68.2,.13)(69,-.02)(69.8,-.05)(70.5,-.09)(71.2,.01)(72,.16)(72.8,-.09)(73.5,-.115)(74.3,-.04)(75,.045)(75.8,.09)(76.5,-.03)(77.3,.02)(78,0)(78.8,-.05)(79.6,-.085)(80.3,-.18)(81,-.055)(81.8,-.03)(82.6,-.105)(83.4,-.115)(84.2,-.05)(85,-.01)(85.8,-.03)(86.6,-.025)(87.4,-.04)(88.2,-.045)(89,-.04)(89.8,-.03)(90.6,.005)(91.4,.065)(92.2,.085)(93,.01)(93.8,-.04)(94.5,-.075)(95.3,.02)(96,.015)(96.8,.1)(97.6,.075)(98.4,-.04)(99.2,-.065)(100,-.035)(100.8,-.025)(101.6,-.015)(102.4,.06)(103.2,.005)(104,0)(104.8,.11)(105.3,.105)(106,.13)(106.8,.07)(107.6,-.075)(108.4,-.08)(109.2,.035)(110,.075)(110.8,.02)(111.6,-.01)(112.4,-.01)(113.2,0)(114,-.02)(114.8,-.04)(115.6,-.05)(116.4,-.055)(117.2,-.035)(118,.005)(118.8,.025)(119.5,.025)(120.3,.01)(121,0)(121.8,-.003)(122.6,.015)(123.4,.02)(124.2,.04)(125,.045)(125.8,.035)(126.6,0)(127.4,.005)(128.2,-.01)(129,-.04)(129.8,-.055)(130.6,-.065)(131.4,.015)(132.2,.11)(133,-.005)(133.8,.01)(134.6,-.02)(135.4,-.06)(136.2,.022)(137,.035)(137.8,.03)(138.6,-.02)(139.4,-.03)(140.2,-.04)(141,-.045)(141.8,0)(142.6,.015)(143.4,.025)(144.2,0)(145,.03)(145.8,0)(146.6,.005)(147.4,-.02)(148.2,-.015)(149,0)(149.8,.005)(150.6,.05)(151.3,.075)(152,-.005)(152.8,-.055)(153.5,-.01)(154.3,.01)(155,-.03)(155.8,.005)};
\addlegendentry{Log return}
\addplot[msd] coordinates {(8.1,.079)(9.4,.070)(11.3,.067)(13.8,.066)(14.7,.070)(15.7,.073)(18.8,.073)(20.1,.064)(22,.059)(23.9,.055)(25.2,.048)(26.4,.047)(27.4,.053)(29,.050)(31.5,.050)(34,.046)(36.5,.046)(38.4,.041)(40.3,.035)(41.6,.037)(44.8,.037)(45.4,.034)(46,.023)(49.2,.023)(50.4,.027)(53.6,.029)(54.9,.028)(56.1,.039)(58,.040)(59.9,.048)(61.8,.050)(63.7,.059)(65.6,.073)(67.5,.081)(69.4,.095)(71.3,.097)(73.2,.093)(75.1,.095)(76.4,.107)(77.6,.102)(79.5,.103)(80.8,.095)(82,.075)(84.6,.074)(87.1,.072)(89,.067)(90.3,.062)(91.3,.068)(91.7,.061)(92.8,.059)(95.3,.061)(96.5,.055)(98,.051)(99.5,.058)(101,.066)(103,.068)(105,.066)(107,.070)(109,.068)(111,.070)(113,.068)(114.5,.063)(115.5,.052)(117,.049)(118.5,.045)(119.5,.042)(120.5,.033)(122,.032)(124,.034)(126,.033)(127.5,.035)(129,.030)(130,.037)(132,.041)(133.5,.046)(135,.049)(137,.050)(139,.049)(140,.042)(141.5,.037)(142.5,.036)(144,.030)(145,.035)(146.5,.041)(148,.045)(150,.045)(151.5,.041)};
\addlegendentry{13 MSd (log return)}
\end{axis}

% Soybean
\begin{axis}[panel, altx, at={(pSoy)}, width=307.275pt, height=110.55pt, ymin=-0.4, ymax=0.4,
  ytick={-0.4,-0.2,0,0.2,0.4},
  yticklabel style={/pgf/number format/precision=1}, ylabel style={at={(axis description cs:-0.090,0.5)}}]
\addplot[lr] coordinates {(1.8,-.06)(2.5,-.05)(3.3,-.035)(4,-.025)(5,-.015)(6.5,0)(7.5,.03)(8.3,.025)(9,.005)(10,0)(11,.035)(12.3,.01)(13,.07)(14,.05)(15,.035)(16,-.02)(16.8,.015)(17.5,-.01)(18.2,-.02)(19,-.02)(19.7,.02)(20.5,-.06)(21.2,-.07)(22,-.03)(22.6,-.01)(23.4,.1)(24.2,.085)(25,.03)(25.8,.05)(26.6,.1)(27.5,.05)(28.4,.04)(29.2,.17)(30,.03)(30.8,-.06)(31.4,-.04)(32,-.21)(32.8,-.2)(33.5,.035)(34.2,0)(35,.01)(35.8,.01)(36.5,.06)(37.3,.085)(38,.03)(38.8,0)(39.6,-.01)(40.4,-.035)(41.2,-.04)(42,-.01)(42.8,-.02)(43.5,0)(44.3,.06)(45,.03)(45.8,0)(46.5,.04)(47.3,.075)(48,.07)(48.8,.03)(49.6,-.005)(50.5,-.07)(51.3,-.07)(52,-.05)(52.8,-.1)(53.5,-.105)(54.2,-.01)(55,.055)(55.8,.065)(56.5,-.02)(57.3,.035)(58,-.02)(58.8,0)(59.6,-.015)(60.4,-.03)(61.2,.05)(62,.075)(62.8,-.06)(63.6,-.05)(64.4,-.04)(65.2,.02)(66,.085)(66.8,0)(67.5,0)(68.3,-.015)(69,-.02)(69.8,-.01)(70.5,.015)(71.3,.02)(72,0)(72.8,-.03)(73.6,-.04)(74.3,.07)(75.2,-.02)(76,-.03)(76.8,-.045)(77.6,-.04)(78.4,-.06)(79.2,-.09)(80,-.115)(80.8,0)(81.5,-.01)(82.3,.03)(83.1,-.02)(84,-.01)(84.8,.01)(85.6,.045)(86.4,.02)(87.2,-.02)(88,-.02)(88.8,.04)(89.6,.06)(90.4,.01)(91.2,.03)(92,.02)(92.8,-.08)(93.6,-.02)(94.4,.01)(95.2,.1)(96,.115)(96.8,.1)(97.6,.06)(98.4,.02)(99.2,-.01)(100,-.02)(100.8,-.03)(101.6,-.045)(102.4,.02)(103.2,0)(104,-.015)(104.8,-.025)(105.6,-.01)(106.4,-.055)(107.2,.07)(108,0)(108.8,.075)(109.6,.04)(110.4,.01)(111.2,-.01)(112,.005)(112.8,-.01)(113.6,-.02)(114.4,-.005)(115.2,.01)(116,-.08)(116.8,-.01)(117.6,.02)(118.4,0)(119.2,.095)(120,.005)(120.8,-.05)(121.6,-.06)(122.4,-.055)(123.2,0)(124,.05)(124.8,.02)(125.6,.03)(126.4,0)(127.2,-.025)(128,.01)(128.8,.03)(129.6,.02)(130.4,.04)(131.2,.06)(132,.03)(132.8,.08)(133.6,.1)(134.4,.17)(135,.245)(135.8,.1)(136.6,.05)(137.4,0)(138.2,-.05)(139,.11)(139.8,.02)(140.6,-.05)(141.4,-.3)(142,-.4)(142.8,.1)(143.6,.035)(144.4,.02)(145.2,.03)(146,.09)(146.8,.03)(147.6,-.05)(148.4,-.06)(149.2,-.065)(150,-.04)(150.8,-.02)(151.6,-.08)(152.4,-.15)(153.2,-.1)(154,.01)(154.8,.13)(155.5,.045)(156,0)};
\addlegendentry{Log return}
\addplot[msd] coordinates {(8.1,.040)(10,.034)(11.9,.033)(13.8,.038)(15.1,.043)(17.6,.049)(18.9,.052)(20.8,.052)(22.7,.062)(24,.062)(25.3,.071)(26.5,.076)(27.8,.100)(31,.098)(34.2,.094)(36,.091)(37.3,.092)(38,.081)(39.2,.076)(40.5,.076)(41.1,.045)(43.7,.047)(46.2,.049)(48.1,.052)(50,.056)(51.3,.063)(52.5,.072)(56.4,.071)(59.5,.069)(62.7,.067)(64,.063)(65.2,.052)(69.1,.052)(71,.052)(72.9,.047)(74.8,.043)(76,.054)(77.3,.045)(80.5,.047)(82.4,.047)(83.6,.038)(85.6,.042)(88.1,.043)(89.4,.034)(90.6,.042)(91.9,.058)(93.8,.060)(97,.062)(100.2,.067)(102.1,.065)(104,.063)(105.2,.049)(107.8,.045)(110.3,.045)(112.2,.052)(113.5,.047)(116,.049)(118.6,.052)(121.1,.056)(123.6,.056)(125.5,.052)(126.8,.049)(128.1,.043)(129.3,.049)(130.6,.076)(132.5,.080)(134.4,.081)(135.3,.094)(136.3,.167)(141.4,.170)(142.7,.157)(145.2,.154)(146.5,.148)(148.4,.145)(149,.098)(150.3,.085)};
\addlegendentry{13 MSd (log return)}
\end{axis}

% Sunflower
\begin{axis}[panel, stdx, at={(pSun)}, width=311.25pt, height=112.95pt, ymin=-0.2, ymax=0.3,
  ytick={-0.2,-0.1,0,0.1,0.2,0.3},
  yticklabel style={/pgf/number format/precision=1}, ylabel style={at={(axis description cs:-0.092,0.5)}}]
\addplot[lr] coordinates {(1.8,.005)(2.8,-.02)(3.5,-.025)(4.3,.06)(5,.06)(5.8,.03)(6.5,.05)(7.8,.045)(8.5,.01)(9.2,0)(10,.03)(11,.045)(12.2,.04)(13.4,0)(14,-.005)(14.8,-.025)(15.6,-.02)(16.4,-.015)(17,-.03)(17.8,.065)(18.4,.045)(19.2,.04)(20,.02)(20.8,.015)(21.6,-.035)(22.4,0)(23,-.015)(23.8,-.04)(24.6,.03)(25.4,.01)(26.2,.015)(27,.025)(27.8,.035)(28.6,.055)(29.4,.06)(30.2,.085)(31,.04)(31.6,-.035)(32.4,-.095)(33.2,-.12)(34,-.025)(34.8,-.035)(35.6,-.07)(36.4,.02)(37.2,.045)(38,.05)(38.8,0)(39.6,-.01)(40.4,-.02)(41.2,.025)(42,.03)(42.8,-.015)(43.6,-.045)(44.4,-.04)(45.2,0)(46,.01)(46.8,-.03)(47.6,-.045)(48.4,-.02)(49.2,.025)(50,0)(50.8,-.005)(51.6,.035)(52.4,.07)(53.2,.03)(54,-.045)(54.8,-.05)(55.6,-.025)(56.4,-.015)(57.2,-.02)(58,-.03)(58.8,-.045)(59.6,0)(60.4,.02)(61.2,-.015)(62,.03)(62.8,-.04)(63.6,.015)(64.4,.04)(65.2,.06)(66,.055)(66.8,.02)(67.6,-.02)(68.4,0)(69.2,-.01)(70,-.015)(70.8,-.01)(71.6,0)(72.4,-.015)(73.2,-.035)(74,-.025)(74.8,-.02)(75.6,-.03)(76.4,-.04)(77.2,-.02)(78,-.025)(78.8,.095)(79.6,-.075)(80.4,-.015)(81.2,-.045)(82,-.01)(82.8,-.015)(83.6,.035)(84.4,0)(85.2,.01)(86,-.035)(86.8,-.03)(87.6,-.035)(88.4,-.01)(89.2,.01)(90,-.02)(90.8,-.035)(91.6,-.03)(92.4,-.045)(93.2,-.045)(94,.04)(94.8,.055)(95.6,-.035)(96.4,-.04)(97.2,0)(98,.08)(98.8,.05)(99.6,0)(100.4,.01)(101.2,.02)(102,.025)(102.8,-.02)(103.6,0)(104.4,.065)(105.2,.07)(106,-.01)(106.8,-.07)(107.6,.015)(108.4,.01)(109.2,0)(110,.01)(110.8,-.03)(111.6,0)(112.4,-.005)(113.2,0)(114,-.05)(114.8,.015)(115.6,0)(116.4,-.01)(117.2,-.05)(118,-.095)(118.8,-.05)(119.6,0)(120.4,.03)(121.2,.065)(122,.06)(122.8,-.03)(123.6,-.045)(124.4,-.01)(125.2,0)(126,0)(126.8,.05)(127.6,-.01)(128.4,.22)(129.2,-.09)(130,-.1)(130.8,-.005)(131.6,.07)(132.4,.17)(133.2,.06)(134,.05)(134.8,.1)(135.6,.08)(136.4,0)(137.2,-.01)(138,-.03)(138.8,0)(139.6,-.02)(140.4,-.06)(141.2,-.11)(142,0)(142.8,.015)(143.6,-.015)(144.4,-.09)(145.2,.075)(146,.08)(146.8,.085)(147.6,.1)(148.4,.2)(149.2,.1)(150,.1)(150.8,-.045)(151.6,-.03)(152.4,-.03)(153.2,-.025)(154,-.04)(154.8,-.125)(155.4,-.15)(156,.085)};
\addlegendentry{Log return}
\addplot[msd] coordinates {(7.9,.032)(10,.034)(13.8,.036)(15.7,.036)(17.5,.039)(20.7,.038)(23.8,.036)(25.1,.032)(26.3,.038)(27.3,.051)(28.8,.054)(30.1,.060)(32.6,.060)(35.1,.061)(37.6,.060)(39.5,.051)(40.7,.047)(41.3,.041)(42.6,.037)(44.5,.038)(46.4,.040)(49.5,.040)(51.4,.038)(53.3,.038)(55.1,.038)(57,.037)(57.6,.029)(58.9,.031)(60.8,.031)(62.6,.036)(64.5,.036)(65.2,.031)(67,.031)(68.9,.032)(70.8,.030)(72.7,.027)(73.3,.029)(74.5,.041)(75.8,.044)(77.7,.043)(78.9,.046)(82.1,.046)(85.2,.047)(86.5,.047)(87.7,.038)(89.6,.037)(90.8,.037)(92.1,.043)(93.4,.047)(96.5,.046)(99.6,.046)(100.9,.049)(102.1,.047)(104,.043)(105.2,.040)(107.1,.044)(109.6,.046)(112.1,.047)(113.4,.047)(114,.051)(115.3,.043)(116.5,.047)(118.4,.051)(121.5,.051)(122.5,.060)(123.4,.084)(124.7,.088)(125.9,.082)(127.2,.093)(130.3,.093)(132.2,.094)(134.7,.096)(136,.094)(136.6,.079)(137.8,.074)(139.1,.079)(140.1,.068)(141,.068)(141.8,.093)(144.1,.092)(146.6,.092)(147.2,.102)(149.1,.102)(151,.107)};
\addlegendentry{13 MSd (log return)}
\end{axis}

\begin{scope}[x=0.75pt,y=-0.75pt]
\draw[line width=1.5pt] (5,1.5) -- (960,1.5);
\draw[line width=1.5pt] (6,0) -- (6,1323);
\draw[line width=1.5pt] (959.5,0) -- (959.5,1323);
\draw[line width=1.5pt] (483.5,0) -- (483.5,1323);
\foreach \yy in {266.5,532.5,797.5,1062.5} {\draw[line width=1.5pt] (6,\yy) -- (959.5,\yy);}
\node[anchor=base west, inner sep=0pt, font=\ttl] at (17,258) {Rice};
\node[anchor=base west, inner sep=0pt, font=\ttl] at (495,258) {Wheat};
\node[anchor=base west, inner sep=0pt, font=\ttl] at (17,524) {Maize};
\node[anchor=base west, inner sep=0pt, font=\ttl] at (495,517) {Chickpea};
\node[anchor=base west, inner sep=0pt, font=\ttl] at (17,789) {Blackgram};
\node[anchor=base west, inner sep=0pt, font=\ttl] at (495,789) {Lentil};
\node[anchor=base west, inner sep=0pt, font=\ttl] at (17,1049) {Greengram};
\node[anchor=base west, inner sep=0pt, font=\ttl] at (495,1056) {Pigeon pea};
\node[anchor=base west, inner sep=0pt, font=\ttl] at (17,1320) {Soybean};
\node[anchor=base west, inner sep=0pt, font=\ttl] at (495,1320) {Sunflower};
\end{scope}
\end{tikzpicture}
\end{document}
